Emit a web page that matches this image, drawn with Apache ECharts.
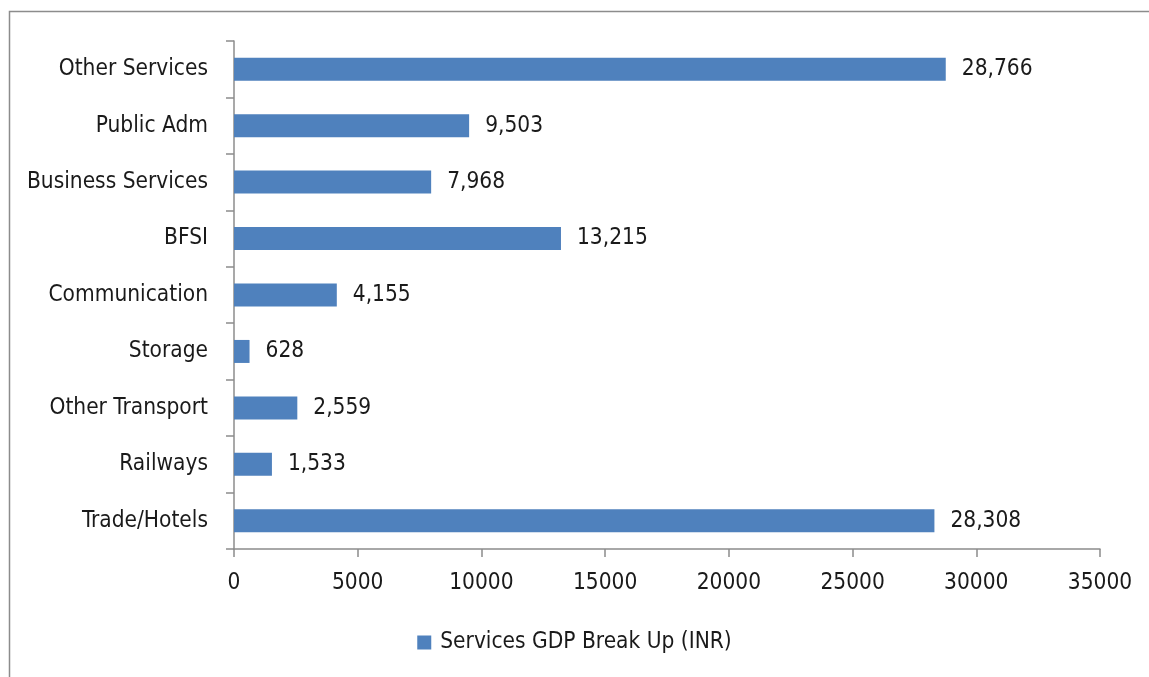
<!DOCTYPE html>
<html>
<head>
<meta charset="utf-8">
<script src="https://cdn.jsdelivr.net/npm/echarts@6/dist/echarts.min.js"></script>
<style>
  html, body { margin: 0; padding: 0; background: #fff; }
  #chart { width: 1149px; height: 677px; }
</style>
</head>
<body>
<div id="chart"></div>
<script>
var categories = ['Trade/Hotels', 'Railways', 'Other Transport', 'Storage', 'Communication',
                  'BFSI', 'Business Services', 'Public Adm', 'Other Services'];
var values = [28308, 1533, 2559, 628, 4155, 13215, 7968, 9503, 28766];
var seriesName = 'Services GDP Break Up (INR)';

var font = '"Liberation Sans Narrow", "DejaVu Sans Condensed", sans-serif';
var fontSize = 22.5;
var chart = echarts.init(document.getElementById('chart'));

var option = {
  animation: false,
  textStyle: { fontFamily: font },
  graphic: [{
    type: 'rect',
    shape: { x: 9.5, y: 11.5, width: 1160, height: 700 },
    style: { fill: 'none', stroke: '#8c8c8c', lineWidth: 1.5 }
  }],
  grid: { left: 234, right: 49, top: 41, bottom: 128 },
  legend: {
    bottom: 18,
    left: 'center',
    itemWidth: 14,
    itemHeight: 14,
    icon: 'rect',
    textStyle: { fontFamily: font, fontSize: fontSize, color: '#1a1a1a', padding: [0, 0, 0, 4] },
    data: [seriesName]
  },
  xAxis: {
    type: 'value',
    min: 0,
    max: 35000,
    interval: 5000,
    splitLine: { show: false },
    axisLine: { show: true, lineStyle: { color: '#8c8c8c', width: 1.5 } },
    axisTick: { show: true, length: 8, lineStyle: { color: '#8c8c8c', width: 1.5 } },
    axisLabel: {
      fontFamily: font, fontSize: fontSize, color: '#1a1a1a', margin: 23,
      formatter: function (v) { return String(v); }
    }
  },
  yAxis: {
    type: 'category',
    data: categories,
    axisLine: { show: true, lineStyle: { color: '#8c8c8c', width: 1.5 } },
    axisTick: { show: true, length: 8, alignWithLabel: false, lineStyle: { color: '#8c8c8c', width: 1.5 } },
    axisLabel: { fontFamily: font, fontSize: fontSize, color: '#1a1a1a', margin: 26 }
  },
  series: [{
    name: seriesName,
    type: 'bar',
    data: values,
    barWidth: 23,
    itemStyle: { color: '#4F81BD' },
    label: {
      show: true,
      position: 'right',
      distance: 16,
      fontFamily: font,
      fontSize: fontSize,
      color: '#1a1a1a',
      formatter: function (p) { return p.value.toLocaleString('en-US'); }
    }
  }]
};
chart.setOption(option);
</script>
</body>
</html>
